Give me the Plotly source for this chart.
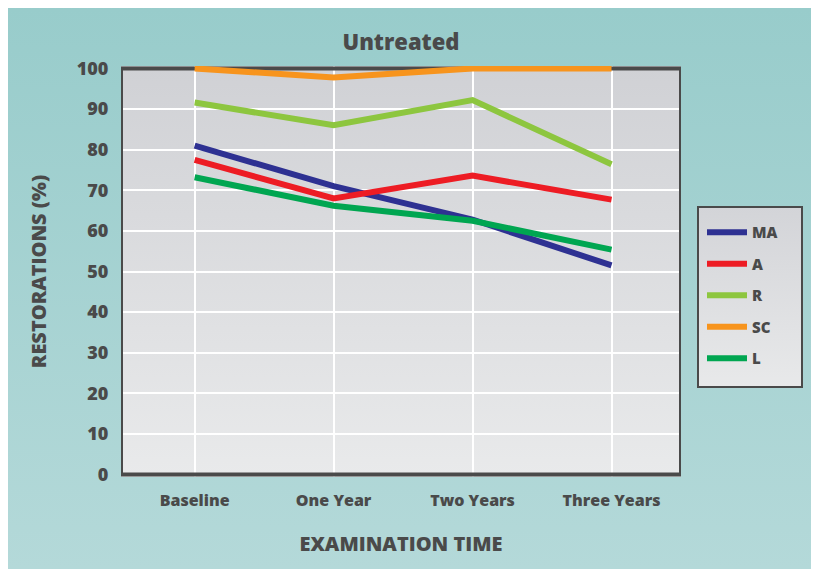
import urllib.parse
import plotly.graph_objects as go

categories = ["Baseline", "One Year", "Two Years", "Three Years"]
series_names = ["MA", "A", "R", "SC", "L"]
ma_values = [81, 71, 62.8, 51.5]
a_values = [77.5, 68, 73.6, 67.7]
r_values = [91.6, 86, 92.2, 76.4]
sc_values = [100, 97.8, 100, 100]
l_values = [73.2, 66.2, 62.5, 55.4]
y_ticks = [0, 10, 20, 30, 40, 50, 60, 70, 80, 90, 100]

colors = ["#2e3192", "#ed1c24", "#8dc63f", "#f7941d", "#00a651"]
all_values = [ma_values, a_values, r_values, sc_values, l_values]

TEXT = "#4a4a4a"
FONT = "Open Sans"
X_RANGE = [-0.53, 3.5]
Y_RANGE = [-0.6, 100.6]


def grad_svg(c1, c2):
    svg = ("<svg xmlns='http://www.w3.org/2000/svg' width='100' height='100' preserveAspectRatio='none'>"
           "<defs><linearGradient id='g' x1='0' y1='0' x2='0' y2='1'>"
           f"<stop offset='0' stop-color='{c1}'/><stop offset='1' stop-color='{c2}'/>"
           "</linearGradient></defs><rect width='100' height='100' fill='url(#g)'/></svg>")
    return "data:image/svg+xml;charset=utf-8," + urllib.parse.quote(svg)


fig = go.Figure()
xs = list(range(len(categories)))
for name, vals, col in zip(series_names, all_values, colors):
    fig.add_trace(go.Scatter(x=xs, y=vals, mode="lines", name=name, legendgroup=name,
                             cliponaxis=False, line=dict(color=col, width=6)))

# figure is offset by the page's 8px body margin
W, H = 811, 561
L, R, T, B = 113, 138, 58, 92
pw, ph = W - L - R, H - T - B


def px_x(px):
    return (px - L) / pw


def px_y(py):
    return (H - B - py) / ph


LEG_X0, LEG_X1, LEG_Y0, LEG_Y1 = 690, 794, 199, 379

images = [
    dict(source=grad_svg("#98cccb", "#b4d9d9"), xref="paper", yref="paper",
         x=px_x(0), y=px_y(0), sizex=W / pw, sizey=H / ph,
         sizing="stretch", layer="below", xanchor="left", yanchor="top"),
    dict(source=grad_svg("#d0d1d5", "#e9eaeb"), xref="x", yref="y",
         x=X_RANGE[0], y=Y_RANGE[1], sizex=X_RANGE[1] - X_RANGE[0],
         sizey=Y_RANGE[1] - Y_RANGE[0], sizing="stretch", layer="below",
         xanchor="left", yanchor="top"),
    dict(source=grad_svg("#d3d4d8", "#e8e9ea"), xref="paper", yref="paper",
         x=px_x(LEG_X0), y=px_y(LEG_Y0), sizex=(LEG_X1 - LEG_X0) / pw,
         sizey=(LEG_Y1 - LEG_Y0) / ph,
         sizing="stretch", layer="below", xanchor="left", yanchor="top"),
]

shapes = [
    dict(type="rect", xref="paper", yref="paper",
         x0=px_x(LEG_X0), x1=px_x(LEG_X1), y0=px_y(LEG_Y1), y1=px_y(LEG_Y0),
         line=dict(color="#4a4a4a", width=2), fillcolor="rgba(0,0,0,0)", layer="above"),
    dict(type="rect", xref="x", yref="y", x0=X_RANGE[0], x1=X_RANGE[1],
         y0=y_ticks[0], y1=y_ticks[-1],
         line=dict(color="#4a4a4a", width=4), fillcolor="rgba(0,0,0,0)", layer="between"),
]

fig.update_layout(
    width=W, height=H,
    margin=dict(l=L, r=R, t=T, b=B),
    paper_bgcolor="#a6d2d2",
    plot_bgcolor="rgba(0,0,0,0)",
    images=images,
    shapes=shapes,
    title=dict(text="Untreated", x=(L + pw / 2) / W, xanchor="center",
               y=1 - 34 / H, yanchor="middle",
               font=dict(family=FONT, size=22, color=TEXT, weight=800)),
    xaxis=dict(range=X_RANGE, tickvals=xs, ticktext=categories,
               showgrid=True, gridcolor="white", gridwidth=2, zeroline=False,
               showline=False, ticks="outside", ticklen=9, tickcolor="rgba(0,0,0,0)",
               tickfont=dict(family=FONT, size=16, color=TEXT, weight=800),
               title=dict(text="EXAMINATION TIME", standoff=26,
                          font=dict(family=FONT, size=20, color=TEXT, weight=800))),
    yaxis=dict(range=Y_RANGE, tickvals=y_ticks,
               showgrid=True, gridcolor="white", gridwidth=2, zeroline=False,
               showline=False, ticks="outside", ticklen=8, tickcolor="rgba(0,0,0,0)",
               tickfont=dict(family=FONT, size=18, color=TEXT, weight=800),
               title=dict(text="RESTORATIONS (%)", standoff=24,
                          font=dict(family=FONT, size=20, color=TEXT, weight=800))),
    legend=dict(x=px_x(694), y=px_y(208), xanchor="left", yanchor="top",
                bgcolor="rgba(0,0,0,0)", borderwidth=0,
                font=dict(family=FONT, size=15, color=TEXT, weight=800),
                traceorder="grouped", tracegroupgap=9, itemwidth=40),
    showlegend=True,
)

fig.write_html("out.html")
